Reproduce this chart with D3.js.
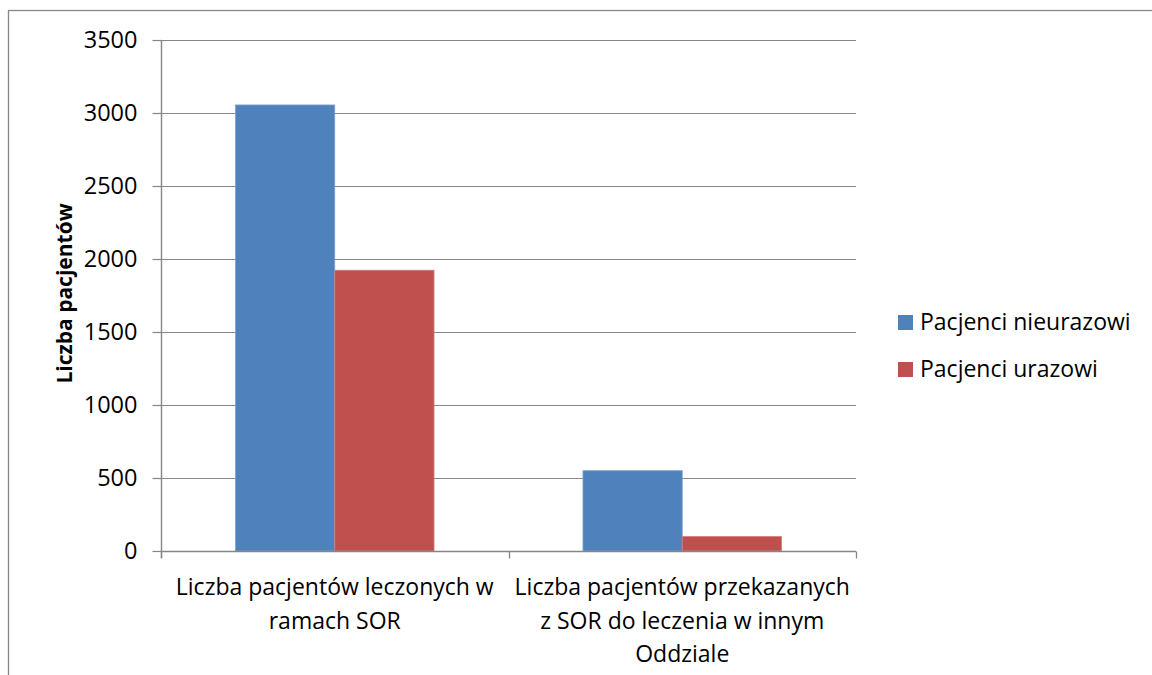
<!DOCTYPE html>
<html>
<head>
<meta charset="utf-8">
<script src="https://cdn.jsdelivr.net/npm/d3@7"></script>
<style>
  html, body { margin: 0; padding: 0; background: #fff; }
  svg { display: block; }
  text { font-family: "Open Sans", "Noto Sans", sans-serif; fill: #000; }
</style>
</head>
<body>
<svg id="chart" width="1152" height="675"></svg>
<script>
// Category labels, already broken into the lines they are shown on
const categoryLines = [
  ["Liczba pacjentów leczonych w", "ramach SOR"],
  ["Liczba pacjentów przekazanych", "z SOR do leczenia w innym", "Oddziale"]
];
const seriesNames = ["Pacjenci nieurazowi", "Pacjenci urazowi"];
const nieurazowi = [3055, 550];
const urazowi = [1923, 99];
const yTicks = [0, 500, 1000, 1500, 2000, 2500, 3000, 3500];
const yTitle = "Liczba pacjentów";

const colors = ["#4F81BD", "#C0504D"];
const strokes = ["#7DA2D2", "#D27D7B"];
const axisColor = "#868686";
const FONT = "'Open Sans', 'Noto Sans', sans-serif";

const svg = d3.select("#chart");
const W = 1152, H = 675;

// Outer chart frame (runs past the right and bottom edges)
svg.append("rect")
  .attr("x", 8.5).attr("y", 10.5)
  .attr("width", W + 20).attr("height", H + 20)
  .attr("fill", "none").attr("stroke", axisColor).attr("stroke-width", 1.3);

const plot = { left: 161, right: 856, top: 40, bottom: 551 };

const categories = categoryLines.map(l => l.join(" "));
const x = d3.scaleBand().domain(categories).range([plot.left, plot.right]);
// inner band: two bars with 150% gap on each category
const barW = x.bandwidth() / 3.5;
const xs = d3.scaleBand().domain(seriesNames).range([0, barW * 2]);

const y = d3.scaleLinear().domain([0, 3500]).range([plot.bottom, plot.top]);

// gridlines
svg.append("g").selectAll("line").data(yTicks.filter(d => d > 0)).join("line")
  .attr("x1", plot.left).attr("x2", plot.right)
  .attr("y1", d => Math.round(y(d)) + 0.5).attr("y2", d => Math.round(y(d)) + 0.5)
  .attr("stroke", axisColor).attr("stroke-width", 1.2);

// bars
const rows = categories.map((c, i) => ({ c, vals: [nieurazowi[i], urazowi[i]] }));
const groups = svg.append("g").selectAll("g").data(rows).join("g")
  .attr("transform", d => `translate(${x(d.c) + barW * 0.75},0)`);
groups.selectAll("rect").data(d => d.vals.map((v, k) => ({ v, k }))).join("rect")
  .attr("x", d => xs(seriesNames[d.k]))
  .attr("width", xs.bandwidth())
  .attr("y", d => y(d.v))
  .attr("height", d => y(0) - y(d.v))
  .attr("fill", d => colors[d.k])
  .attr("stroke", d => strokes[d.k]).attr("stroke-width", 0.8);

// y axis
const yAxis = d3.axisLeft(y).tickValues(yTicks).tickFormat(d3.format("d"))
  .tickSize(9).tickPadding(15);
const gy = svg.append("g").attr("transform", `translate(${plot.left + 0.5},0)`).call(yAxis);
gy.select(".domain").attr("stroke", axisColor).attr("stroke-width", 1.4)
  .attr("d", `M0,${plot.top}V${plot.bottom + 7}`);
gy.selectAll(".tick line").attr("stroke", axisColor).attr("stroke-width", 1.2);
gy.selectAll(".tick text").attr("font-size", 23.5).attr("font-family", FONT).attr("fill", "#000");

// x axis with ticks on the category boundaries
const gx = svg.append("g").attr("transform", `translate(0,${plot.bottom + 0.5})`);
gx.append("path").attr("d", `M${plot.left},0H${plot.right}`)
  .attr("stroke", axisColor).attr("stroke-width", 1.4).attr("fill", "none");
const bounds = categories.map(c => x(c)).concat([plot.right]);
gx.selectAll("line.bt").data(bounds).join("line")
  .attr("class", "bt")
  .attr("x1", d => Math.round(d) + 0.5).attr("x2", d => Math.round(d) + 0.5)
  .attr("y1", 0).attr("y2", 7)
  .attr("stroke", axisColor).attr("stroke-width", 1.3);

// category labels
const lab = svg.append("g").selectAll("text").data(categoryLines).join("text")
  .attr("text-anchor", "middle")
  .attr("font-size", 23);
lab.each(function(lines, i) {
  const t = d3.select(this);
  const cx = x(categories[i]) + x.bandwidth() / 2;
  lines.forEach((ln, j) => {
    t.append("tspan").attr("x", cx).attr("y", 595 + j * 33.5).text(ln);
  });
});

// y axis title
svg.append("text")
  .attr("transform", `translate(72,${(plot.top + plot.bottom) / 2 - 2}) rotate(-90)`)
  .attr("text-anchor", "middle")
  .attr("font-size", 21).attr("font-weight", "bold")
  .text(yTitle);

// legend
const leg = svg.append("g").selectAll("g").data(seriesNames).join("g")
  .attr("transform", (d, i) => `translate(898,${315 + i * 47})`);
leg.append("rect").attr("width", 15).attr("height", 15)
  .attr("fill", (d, i) => colors[i]);
leg.append("text").attr("x", 22).attr("y", 15).attr("font-size", 23).text(d => d);
</script>
</body>
</html>
